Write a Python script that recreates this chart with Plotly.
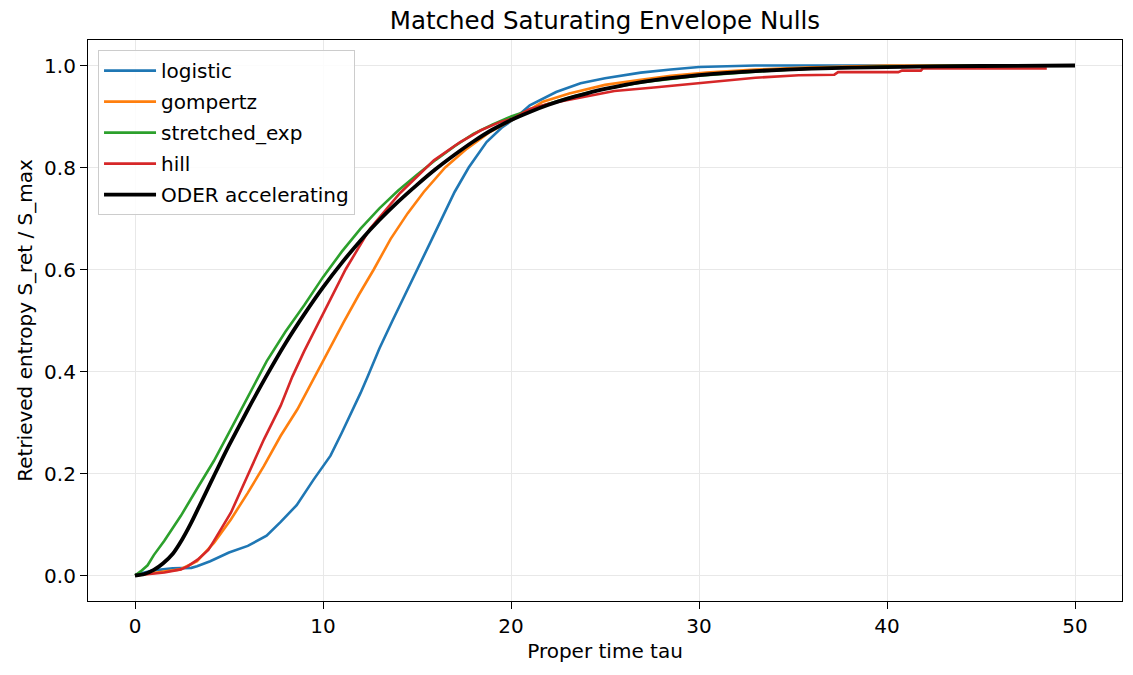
import plotly.graph_objects as go

# ---- data ----
tau_logistic = [0, 0.5, 1, 1.5, 2, 3, 3.3, 4, 5, 6, 7, 7.75, 8.6, 9.5, 10.4, 11.0, 11.6, 12.0, 12.4,
                13, 13.7, 14.5, 15.1, 15.8, 17.0, 17.75, 18.7, 19.5, 20.2, 21.0, 22.4, 23.7, 25,
                26.9, 28.5, 30, 33, 40, 50]
y_logistic = [0, 0.006, 0.01, 0.012, 0.014, 0.015, 0.018, 0.028, 0.045, 0.058, 0.078, 0.105, 0.138,
              0.188, 0.235, 0.28, 0.325, 0.358, 0.392, 0.445, 0.5, 0.56, 0.605, 0.66, 0.752, 0.8,
              0.85, 0.878, 0.896, 0.922, 0.948, 0.965, 0.975, 0.986, 0.992, 0.997, 1.0, 1.0, 1.0]

tau_gompertz = [0, 1, 1.5, 2.4, 3.3, 4.2, 5.1, 6.0, 6.86, 7.75, 8.64, 9.48, 10.3, 11.1, 11.9, 12.7,
                13.6, 14.5, 15.36, 16.5, 17.66, 18.9, 20.2, 21.7, 23.1, 25, 26.9, 28.5, 30.4, 33,
                35.7, 40, 50]
y_gompertz = [0, 0.005, 0.008, 0.012, 0.028, 0.064, 0.11, 0.162, 0.215, 0.274, 0.326, 0.385, 0.44,
              0.497, 0.55, 0.6, 0.66, 0.71, 0.752, 0.8, 0.837, 0.87, 0.896, 0.929, 0.945, 0.962,
              0.972, 0.98, 0.986, 0.992, 0.996, 1.0, 1.0]

tau_stretched = [0, 0.3, 0.67, 1.0, 1.56, 2.44, 3.33, 4.2, 5.1, 6.0, 7, 8, 9, 10, 11, 12, 13, 14, 15,
                 16, 17, 18, 19, 20, 21, 22, 23, 24, 25, 27, 30, 33, 36, 40, 45, 50]
y_stretched = [0, 0.008, 0.02, 0.04, 0.068, 0.117, 0.172, 0.225, 0.287, 0.35, 0.42, 0.478, 0.53,
               0.585, 0.635, 0.68, 0.72, 0.755, 0.786, 0.815, 0.842, 0.866, 0.884, 0.9, 0.913,
               0.925, 0.936, 0.946, 0.954, 0.967, 0.98, 0.988, 0.994, 0.998, 1.0, 1.0]

tau_hill = [0, 0.5, 1.0, 1.56, 2.44, 2.8, 3.33, 3.9, 4.2, 5.1, 5.98, 6.86, 7.75, 8.37, 9.0, 9.77,
            10.5, 11.2, 12.5, 14.1, 15.9, 17.3, 18.4, 19.4, 20.1, 21.0, 22.0, 24.0, 25.5, 27.6,
            30, 33, 35.3, 37.2, 37.4, 40.6, 40.8, 41.8, 41.9, 48.5]
y_hill = [0, 0.002, 0.004, 0.006, 0.012, 0.018, 0.031, 0.05, 0.068, 0.123, 0.195, 0.267, 0.333,
          0.39, 0.44, 0.497, 0.55, 0.6, 0.68, 0.75, 0.814, 0.85, 0.873, 0.889, 0.896, 0.915, 0.925,
          0.94, 0.95, 0.957, 0.966, 0.976, 0.981, 0.982, 0.987, 0.987, 0.99, 0.99, 0.994, 0.994]

tau_oder = [0, 0.5, 1, 1.5, 2, 2.5, 3, 3.5, 4, 4.5, 5, 6, 7, 8, 9, 10, 11, 12, 13, 14, 15, 16,
            17, 18, 19, 20, 21, 22, 23, 24, 25, 27, 30, 33, 36, 40, 45, 50]
y_oder = [0, 0.003, 0.011, 0.024, 0.042, 0.07, 0.104, 0.142, 0.18, 0.218, 0.255, 0.325, 0.392, 0.455,
          0.512, 0.565, 0.613, 0.657, 0.697, 0.733, 0.766, 0.797, 0.825, 0.851, 0.874, 0.893, 0.909,
          0.923, 0.935, 0.945, 0.954, 0.968, 0.981, 0.989, 0.994, 0.997, 0.999, 1.0]

series_names = ["logistic", "gompertz", "stretched_exp", "hill", "ODER accelerating"]
series_colors = ["#1f77b4", "#ff7f0e", "#2ca02c", "#d62728", "#000000"]
x_ticks = [0, 10, 20, 30, 40, 50]
y_ticks = [0.0, 0.2, 0.4, 0.6, 0.8, 1.0]

xs = [tau_logistic, tau_gompertz, tau_stretched, tau_hill, tau_oder]
ys = [y_logistic, y_gompertz, y_stretched, y_hill, y_oder]

FONT = "DejaVu Sans"
FS = 20
fig = go.Figure()
for i, (name, col, x, y) in enumerate(zip(series_names, series_colors, xs, ys)):
    is_black = name.startswith("ODER")
    fig.add_trace(go.Scatter(
        x=x, y=y, mode="lines", name=name, legendgroup=f"g{i}",
        line=dict(color=col, width=3.8 if is_black else 2.6,
                  shape="spline" if is_black else "linear", smoothing=0.8 if is_black else None),
    ))

axis_common = dict(
    showline=True, mirror=True, linecolor="black", linewidth=1.2,
    ticks="outside", ticklen=7, tickcolor="black", tickwidth=1.2,
    showgrid=True, gridcolor="#e8e8e8", gridwidth=1, zeroline=False,
    tickfont=dict(family=FONT, size=FS, color="black"),
)
fig.update_layout(
    width=1133, height=675,
    margin=dict(l=88, r=11, t=40, b=74),
    paper_bgcolor="white", plot_bgcolor="white",
    font=dict(family=FONT, color="black"),
    title=dict(text="Matched Saturating Envelope Nulls", x=0.5, xref="paper",
               y=1 - 20 / 675, yref="container", yanchor="middle",
               font=dict(family=FONT, size=24.5, color="black")),
    xaxis=dict(range=[-2.5, 52.5], tickvals=x_ticks,
               title=dict(text="Proper time tau", font=dict(family=FONT, size=FS), standoff=6),
               **axis_common),
    yaxis=dict(range=[-0.05, 1.05], tickvals=y_ticks, tickformat=".1f",
               title=dict(text="Retrieved entropy S_ret / S_max", font=dict(family=FONT, size=FS), standoff=6),
               **axis_common),
    legend=dict(x=0.0097, y=0.982, xanchor="left", yanchor="top",
                bgcolor="rgba(255,255,255,0.85)", bordercolor="#cccccc", borderwidth=1,
                font=dict(family=FONT, size=FS, color="black"),
                tracegroupgap=2, itemwidth=52),
    showlegend=True,
)
fig.write_html("out.html")
